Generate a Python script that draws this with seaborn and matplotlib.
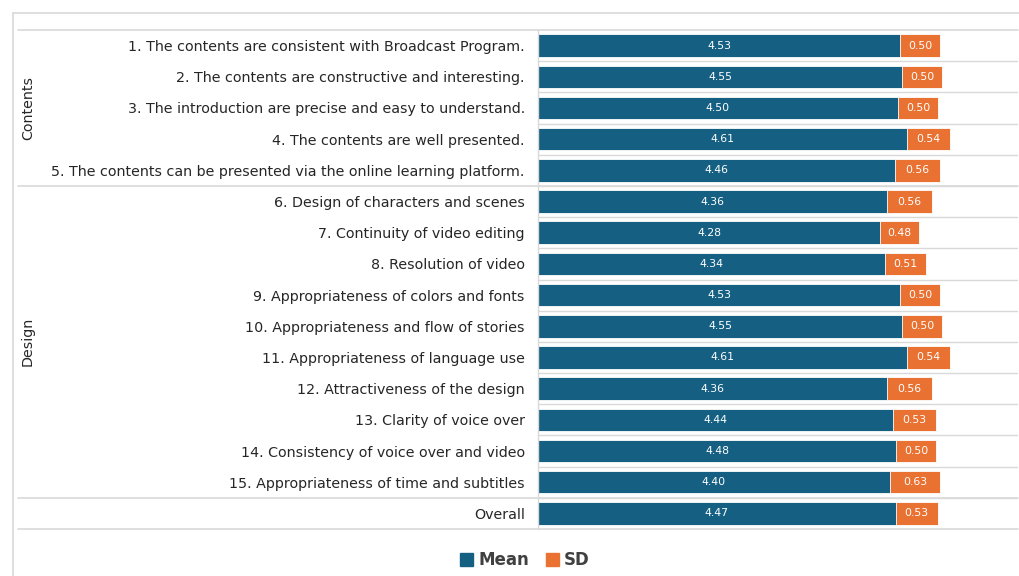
import matplotlib
matplotlib.use("Agg")
import matplotlib.pyplot as plt
import matplotlib.transforms as mtransforms
import seaborn as sns
import pandas as pd
from matplotlib.patches import Patch
from matplotlib.lines import Line2D

items = [
    "1. The contents are consistent with Broadcast Program.",
    "2. The contents are constructive and interesting.",
    "3. The introduction are precise and easy to understand.",
    "4. The contents are well presented.",
    "5. The contents can be presented via the online learning platform.",
    "6. Design of characters and scenes",
    "7. Continuity of video editing",
    "8. Resolution of video",
    "9. Appropriateness of colors and fonts",
    "10. Appropriateness and flow of stories",
    "11. Appropriateness of language use",
    "12. Attractiveness of the design",
    "13. Clarity of voice over",
    "14. Consistency of voice over and video",
    "15. Appropriateness of time and subtitles",
    "Overall",
]
means = [4.53, 4.55, 4.50, 4.61, 4.46, 4.36, 4.28, 4.34, 4.53, 4.55, 4.61, 4.36, 4.44, 4.48, 4.40, 4.47]
sds = [0.50, 0.50, 0.50, 0.54, 0.56, 0.56, 0.48, 0.51, 0.50, 0.50, 0.54, 0.56, 0.53, 0.50, 0.63, 0.53]
groups = ["Contents", "Design"]
group_rows = [(0, 4), (5, 14)]

MEAN_C = "#156082"
SD_C = "#E97132"
GRID_C = "#d9d9d9"
TXT_C = "#262626"

df = pd.DataFrame({"item": items, "mean": means, "sd": sds})
df["total"] = df["mean"] + df["sd"]

sns.set_style("white")
plt.rcParams["font.family"] = ["DejaVu Sans"]

W, H = 1019, 576
fig = plt.figure(figsize=(W / 100, H / 100), dpi=100)
ax = fig.add_axes([538 / W, 1 - 529 / H, 480 / W, (529 - 30) / H])

sns.barplot(data=df, y="item", x="total", orient="h", color=SD_C, saturation=1,
            width=0.72, ax=ax, edgecolor="white", linewidth=0.6)
sns.barplot(data=df, y="item", x="mean", orient="h", color=MEAN_C, saturation=1,
            width=0.72, ax=ax, edgecolor="white", linewidth=0.6)

ax.set_xlim(0, 6.0)
ax.set_ylim(len(items) - 0.5, -0.5)
ax.set_xlabel("")
ax.set_ylabel("")
ax.set_xticks([])
ax.tick_params(axis="y", length=0, pad=9.5, labelsize=10.3, labelcolor=TXT_C)
for s in ["top", "right", "bottom"]:
    ax.spines[s].set_visible(False)
ax.spines["left"].set_color(GRID_C)
ax.spines["left"].set_linewidth(1)

# row separators in bar area
for i in range(len(items) - 1):
    ax.axhline(i + 0.5, color=GRID_C, lw=1, zorder=0)

# full-width separators
left_frac = (18 - 538) / 480
for yv in [-0.5, 4.5, 14.5, len(items) - 0.5]:
    ax.axhline(yv, xmin=left_frac, xmax=1, color=GRID_C, lw=1.2, clip_on=False, zorder=0)

# value labels
for i, (m, s) in enumerate(zip(means, sds)):
    ax.text(m / 2, i, f"{m:.2f}", ha="center", va="center", color="white", fontsize=7.8)
    ax.text(m + s / 2, i, f"{s:.2f}", ha="center", va="center", color="white", fontsize=7.8)

# group labels
blend = mtransforms.blended_transform_factory(fig.transFigure, ax.transData)
for g, (a, b) in zip(groups, group_rows):
    yc = (a + b) / 2
    ax.text(28 / W, yc, g, rotation=90, ha="center", va="center", fontsize=10.3, color=TXT_C,
            transform=blend)

# outer frame lines
fig.add_artist(Line2D([13 / W, 13 / W], [0, 1 - 13 / H], transform=fig.transFigure, color=GRID_C, lw=1.2))
fig.add_artist(Line2D([13 / W, 1], [1 - 13 / H, 1 - 13 / H], transform=fig.transFigure, color=GRID_C, lw=1.2))

handles = [Patch(color=MEAN_C, label="Mean"), Patch(color=SD_C, label="SD")]
leg = fig.legend(handles=handles, loc="center", bbox_to_anchor=(525 / W, 1 - 560 / H), ncol=2,
                 frameon=False, fontsize=12, handlelength=0.8, handleheight=0.8, handletextpad=0.3,
                 columnspacing=1.0)
for t in leg.get_texts():
    t.set_color("#404040")
    t.set_fontweight("bold")

fig.savefig("out.png", dpi=100)
